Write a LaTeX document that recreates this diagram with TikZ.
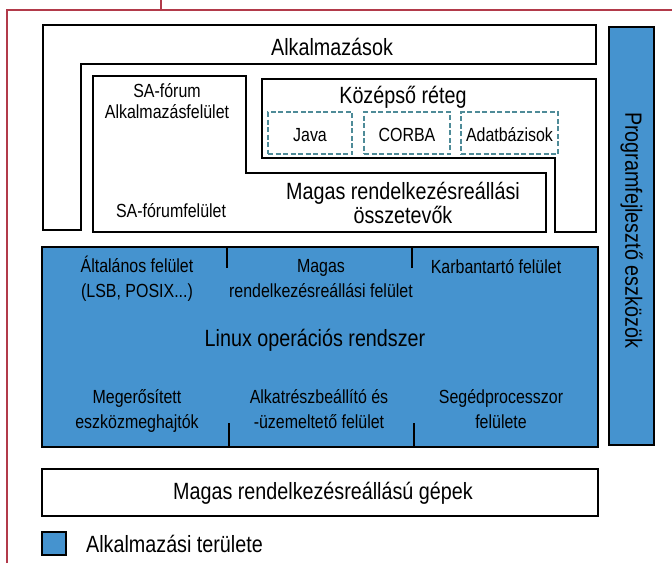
\documentclass[tikz,border=0pt]{standalone}
\usepackage{fontspec}
\setmainfont{Liberation Sans}[FakeStretch=0.84]
\usetikzlibrary{positioning}
\definecolor{hablue}{HTML}{4593CF}
\definecolor{hadash}{HTML}{4E8B98}
\definecolor{haframe}{HTML}{B23A4A}

\begin{document}
\begin{tikzpicture}[
  x=1pt, y=-1pt,
  bigtxt/.style={font=\fontsize{23.5}{21}\selectfont, align=center, anchor=base, inner sep=0pt},
  smalltxt/.style={font=\fontsize{19}{21}\selectfont, align=center, anchor=base, inner sep=0pt},
  bluetxt/.style={font=\fontsize{19}{24.5}\selectfont, align=center, anchor=base, inner sep=0pt},
  layer/.style={draw=black, line width=2.4pt},
  divider/.style={draw=black, line width=1.2pt},
  dashbox/.style={draw=hadash, line width=1.8pt, dash pattern=on 5pt off 2.5pt, font=\fontsize{19}{22}\selectfont, text height=16pt, text depth=0pt, minimum height=42pt, inner sep=0pt}
]
  \useasboundingbox (0,0) rectangle (672,563);

  % page frame
  \draw[haframe, line width=1.3pt] (7,563) -- (7,10) -- (672,10);
  \draw[haframe, line width=1.3pt] (161,0) -- (161,10);

  % Applications
  \draw[layer] (43,25) -- (596,25) -- (596,64) -- (81,64) -- (81,230) -- (43,230) -- cycle;
  \node[bigtxt] (apps) at (332,55) {Alkalmazások};

  % SA-forum interfaces (base = last line)
  \draw[layer] (93,76) -- (246,76) -- (246,173) -- (546,173) -- (546,232) -- (93,232) -- cycle;
  \node[smalltxt] (safapi) at (167,118) {SA-fórum\\Alkalmazásfelület};
  \node[smalltxt] (safif) at (171,217) {SA-fórumfelület};
  \node[bigtxt] (hacomp) at (403,223) {Magas rendelkezésreállási\\összetevők};

  % Middleware
  \draw[layer] (262,79) -- (596,79) -- (596,232) -- (555,232) -- (555,158) -- (262,158) -- cycle;
  \node[bigtxt] (midware) at (403,103) {Középső réteg};
  \node[dashbox, minimum width=84pt] (java) at (310,133) {Java};
  \node[dashbox, minimum width=86pt] (corba) at (407,133) {CORBA};
  \node[dashbox, minimum width=97pt] (dbase) at (509.5,133) {Adatbázisok};

  % Linux
  \draw[layer, fill=hablue] (42,247) rectangle (598,447);
  \draw[divider] (227,247) -- (227,268);
  \draw[divider] (412,247) -- (412,268);
  \draw[divider] (229,423) -- (229,447);
  \draw[divider] (414,423) -- (414,447);
  \node[bluetxt] (genif) at (137,297) {Általános felület\\(LSB, POSIX...)};
  \node[bluetxt] (haif) at (321,297) {Magas\\rendelkezésreállási felület};
  \node[bluetxt] (maintif) at (496,273) {Karbantartó felület};
  \node[bigtxt] (linux) at (315,346) {Linux operációs rendszer};
  \node[bluetxt] (drivers) at (137,428) {Megerősített\\eszközmeghajtók};
  \node[bluetxt] (partif) at (319,428) {Alkatrészbeállító és\\-üzemeltető felület};
  \node[bluetxt] (coprocif) at (501,428) {Segédprocesszor\\felülete};

  % Tools
  \draw[layer, fill=hablue] (609,27) rectangle (654,445);
  \node[font=\fontsize{23.5}{21}\selectfont, rotate=-90, inner sep=0pt] (tools) at (631.5,230) {Programfejlesztő eszközök};

  % Hardware
  \draw[layer] (42,469) rectangle (598,516);
  \node[bigtxt] (hw) at (323,499) {Magas rendelkezésreállású gépek};

  % Legend
  \draw[draw=black, line width=1.8pt, fill=hablue] (42,532) rectangle (66,555);
  \node[bigtxt, anchor=base west] (legend) at (86,552) {Alkalmazási területe};
\end{tikzpicture}
\end{document}
